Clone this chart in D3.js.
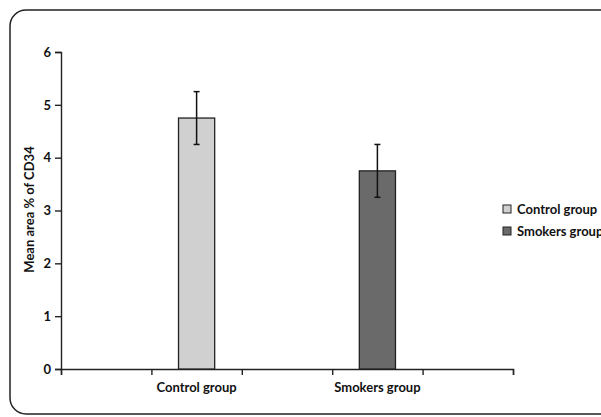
<!DOCTYPE html>
<html>
<head>
<meta charset="utf-8">
<script src="https://cdn.jsdelivr.net/npm/d3@7"></script>
<style>
  body { margin:0; background:#fff; }
  text { font-family: Lato, "Open Sans", sans-serif; font-weight:bold; fill:#111; }
</style>
</head>
<body>
<div id="chart-area"></div>
<script>
// data
const groups = ["Control group", "Smokers group"];
const means = [4.75, 3.75];
const errors = [0.5, 0.5];
const groupColors = ["#d0d0d0", "#6a6a6a"];
const yTicks = [0, 1, 2, 3, 4, 5, 6];
// category slots on the x axis (groups sit in slots 1 and 3)
const slots = ["s0", "Control group", "s2", "Smokers group", "s4"];

const margin = { left:61, right:88, top:52, bottom:48 };
const W = 601, H = 417;
const width = W - margin.left - margin.right,
    height = H - margin.top - margin.bottom;

const svg = d3.select("#chart-area")
    .append("svg")
    .attr("width", W)
    .attr("height", H);

// rounded frame, right side runs off the picture
svg.append("rect")
    .attr("x", 10).attr("y", 10)
    .attr("width", 700).attr("height", 404)
    .attr("rx", 16).attr("ry", 16)
    .attr("fill", "none")
    .attr("stroke", "#222")
    .attr("stroke-width", 1.5);

const g = svg.append("g")
    .attr("transform", "translate(" + margin.left + ", " + margin.top + ")");

const y = d3.scaleLinear().domain([0, 6]).range([height, 0]);

const x = d3.scaleBand()
    .domain(slots)
    .range([0, width])
    .paddingInner(0)
    .paddingOuter(0);

// tick positions at slot boundaries
const xb = d3.scaleLinear().domain([0, slots.length]).range([0, width]);

// y axis
const yAxisCall = d3.axisLeft(y).tickValues(yTicks).tickSize(6).tickPadding(4)
    .tickFormat(d3.format("d"));
const ya = g.append("g").attr("class", "y-axis").call(yAxisCall);
ya.selectAll("text").attr("font-size", "13px");

// x axis (ticks only)
const xAxisCall = d3.axisBottom(xb).ticks(5).tickSize(6).tickFormat("");
g.append("g")
    .attr("class", "x axis")
    .attr("transform", "translate(0, " + height + ")")
    .call(xAxisCall);

svg.selectAll(".domain, .tick line")
    .attr("stroke", "#222")
    .attr("stroke-width", 1.4);

// group labels
g.selectAll(".xlab")
    .data(groups)
    .enter()
    .append("text")
    .attr("class", "xlab")
    .attr("x", d => x(d) + x.bandwidth() / 2)
    .attr("y", height + 23)
    .attr("text-anchor", "middle")
    .attr("font-size", "13px")
    .text(d => d);

// bars
const barW = x.bandwidth() * 0.4;
g.selectAll(".bar")
    .data(groups)
    .enter()
    .append("rect")
    .attr("class", "bar")
    .attr("x", d => x(d) + (x.bandwidth() - barW) / 2)
    .attr("y", (d, i) => y(means[i]))
    .attr("width", barW)
    .attr("height", (d, i) => height - y(means[i]))
    .attr("fill", (d, i) => groupColors[i])
    .attr("stroke", "#222")
    .attr("stroke-width", 1.3);

// error bars
const eb = g.selectAll(".err")
    .data(groups)
    .enter()
    .append("g")
    .attr("class", "err")
    .attr("stroke", "#111")
    .attr("stroke-width", 1.5);
eb.append("line")
    .attr("x1", d => x(d) + x.bandwidth() / 2)
    .attr("x2", d => x(d) + x.bandwidth() / 2)
    .attr("y1", (d, i) => y(means[i] + errors[i]))
    .attr("y2", (d, i) => y(means[i] - errors[i]));
[1, -1].forEach(function(s){
    eb.append("line")
        .attr("x1", d => x(d) + x.bandwidth() / 2 - 3)
        .attr("x2", d => x(d) + x.bandwidth() / 2 + 3)
        .attr("y1", (d, i) => y(means[i] + s * errors[i]))
        .attr("y2", (d, i) => y(means[i] + s * errors[i]));
});

// y label
g.append("text")
    .attr("transform", "translate(-27, " + (y(3) - 1) + ") rotate(-90)")
    .attr("text-anchor", "middle")
    .attr("font-size", "13px")
    .text("Mean area % of CD34");

// legend
const leg = svg.append("g").attr("transform", "translate(503, 205)");
const li = leg.selectAll(".li")
    .data(groups)
    .enter()
    .append("g")
    .attr("transform", (d, i) => "translate(0," + i * 22 + ")");
li.append("rect")
    .attr("width", 8).attr("height", 8)
    .attr("fill", (d, i) => groupColors[i])
    .attr("stroke", "#222")
    .attr("stroke-width", 1);
li.append("text")
    .attr("x", 14).attr("y", 9)
    .attr("font-size", "13px")
    .text(d => d);
</script>
</body>
</html>
